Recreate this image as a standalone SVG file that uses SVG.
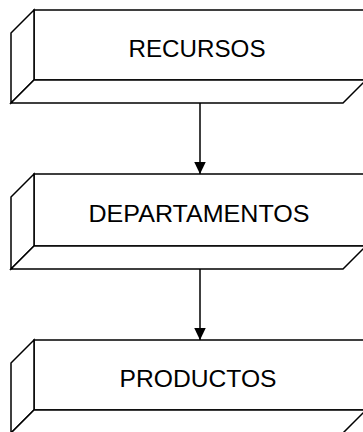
<svg xmlns="http://www.w3.org/2000/svg" width="363" height="432" viewBox="0 0 363 432">
<defs>
<style>
.f{fill:#fff;stroke:#000;stroke-width:1.5;stroke-linejoin:miter}
.t{font-family:"Liberation Sans",Arial,sans-serif;font-size:23.5px;fill:#000;text-anchor:middle}
.c{stroke:#000;stroke-width:1.5;fill:none}
</style>
<marker id="ah" markerUnits="userSpaceOnUse" markerWidth="13" markerHeight="13" refX="12.5" refY="6" orient="auto">
<path d="M0,0 L12.5,6 L0,12 Z" fill="#000"/>
</marker>
</defs>
<rect width="363" height="432" fill="#fff"/>
<g id="recursos">
<rect class="f" x="34" y="10" width="334" height="70"/>
<path class="f" d="M11,33 L34,10 L34,80 L11,103 Z"/>
<path class="f" d="M34,80 L366,80 L343,103 L11,103 Z"/>
<text class="t" x="197" y="57" textLength="137" lengthAdjust="spacingAndGlyphs">RECURSOS</text>
</g>
<g id="departamentos">
<rect class="f" x="34" y="174" width="334" height="72"/>
<path class="f" d="M11,197 L34,174 L34,246 L11,269 Z"/>
<path class="f" d="M34,246 L366,246 L343,269 L11,269 Z"/>
<text class="t" x="199" y="222" textLength="221" lengthAdjust="spacingAndGlyphs">DEPARTAMENTOS</text>
</g>
<g id="productos">
<rect class="f" x="34" y="340" width="334" height="70"/>
<path class="f" d="M11,363 L34,340 L34,410 L11,433 Z"/>
<path class="f" d="M34,410 L366,410 L343,433 L11,433 Z"/>
<text class="t" x="198" y="387" textLength="157" lengthAdjust="spacingAndGlyphs">PRODUCTOS</text>
</g>
<g id="connectors">
<line class="c" x1="200" y1="103" x2="200" y2="174" marker-end="url(#ah)"/>
<line class="c" x1="200" y1="269" x2="200" y2="340" marker-end="url(#ah)"/>
</g>
</svg>
